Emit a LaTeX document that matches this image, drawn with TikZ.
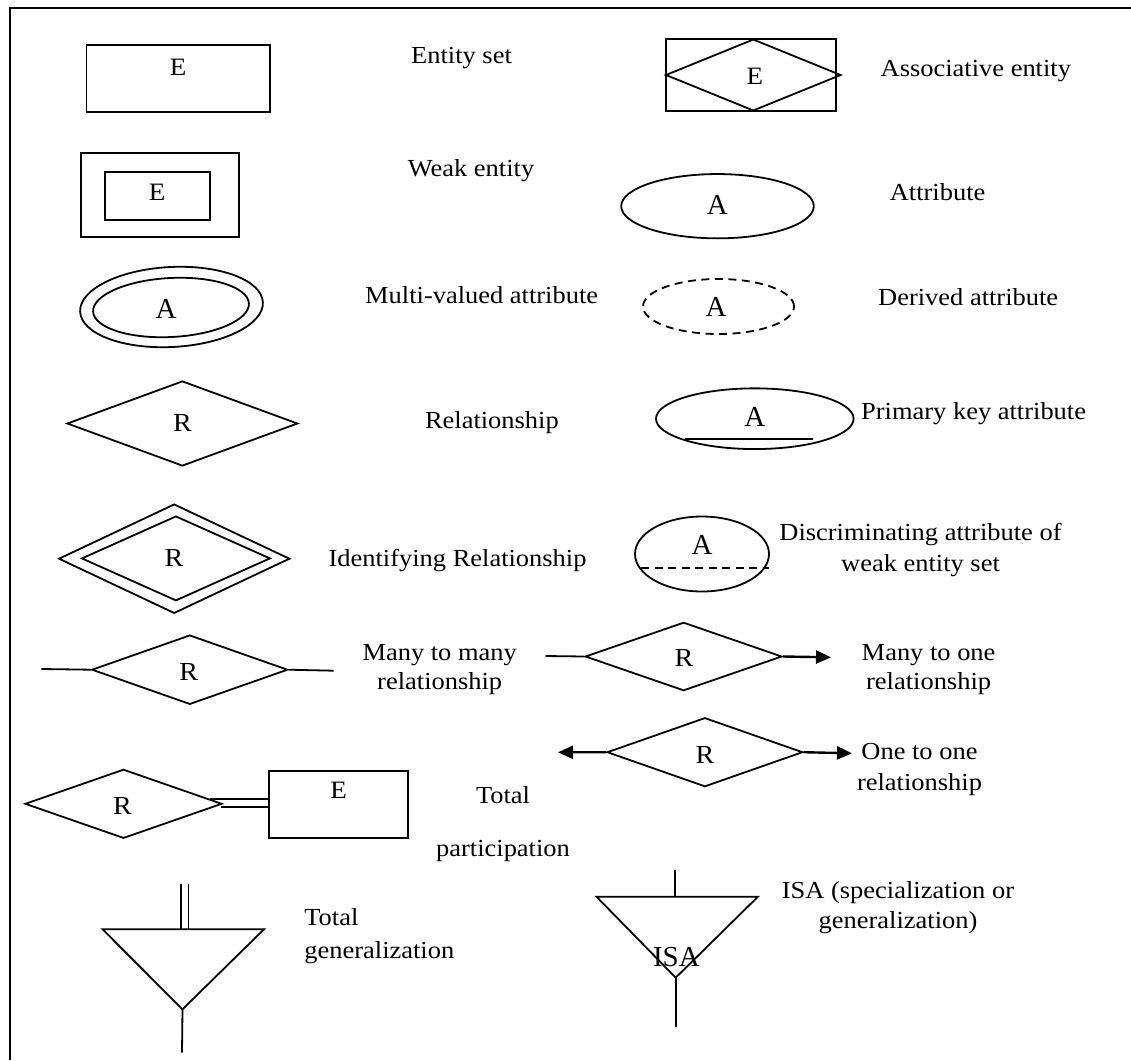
\documentclass[tikz,border=0pt]{standalone}
\usepackage{fontspec}
\setmainfont{Liberation Serif}[FakeStretch=1.08]
\newfontfamily\plainserif{Liberation Serif}
\usetikzlibrary{shapes.geometric,arrows.meta,calc}

\tikzset{
  ln/.style={line width=1.8pt},
  txt/.style={font=\fontsize{24.5}{29}\selectfont, inner sep=0pt},
  lbl/.style={txt, anchor=base west},
  clbl/.style={txt, anchor=base},
  ent/.style={draw, ln, rectangle, inner sep=0pt},
  rel/.style={draw, ln, diamond, inner sep=0pt},
  attr/.style={draw, ln, ellipse, inner sep=0pt},
  letE/.style={font=\fontsize{25}{29}\selectfont, inner sep=0pt},
  letR/.style={font=\fontsize{26}{30}\selectfont, inner sep=0pt},
  letA/.style={font=\plainserif\fontsize{29}{33}\selectfont, inner sep=0pt},
  dash8/.style={dash pattern=on 8pt off 5.5pt},
  tip/.style={line width=2.4pt, -{Triangle[length=15pt,width=13pt]}},
}

\begin{document}
\begin{tikzpicture}[x=1pt,y=-1pt]
\useasboundingbox (0,0) rectangle (1131,1060);

% open frame: top and left rules
\draw[line width=2.2pt] (10,1060) -- (10,8) -- (1131,8);

% ---- entity set
\node[ent, minimum width=183.5pt, minimum height=67pt] (ent) at (178.3,78.5) {};
\node[letE] (entE) at (178,67.5) {E};
\node[lbl] (tEnt) at (411,63) {Entity set};

% ---- weak entity
\node[ent, minimum width=158pt, minimum height=84pt] (weakO) at (159.8,194.7) {};
\node[ent, minimum width=105pt, minimum height=47.7pt] (weakI) at (157.1,195.9) {};
\node[letE] (weakE) at (157,192.5) {E};
\node[lbl] (tWeak) at (407.6,176.7) {Weak entity};

% ---- associative entity
\node[ent, minimum width=170pt, minimum height=71.7pt] (assR) at (750.7,74.9) {};
\node[rel, minimum width=175.4pt, minimum height=71.7pt] (assD) at (753.3,75) {};
\node[letE] (assE) at (754.8,76) {E};
\node[lbl] (tAss) at (880.5,76) {Associative entity};

% ---- attribute
\node[attr, minimum width=192.6pt, minimum height=64.3pt] (att) at (717.5,206.2) {};
\node[letA] (attA) at (717.3,205) {A};
\node[lbl] (tAtt) at (889.6,200) {Attribute};

% ---- multi-valued attribute
\node[attr, rotate=3, minimum width=183pt, minimum height=80pt] (mvO) at (171.5,307) {};
\node[attr, rotate=3, minimum width=156pt, minimum height=59pt] (mvI) at (171,307.5) {};
\node[letA] (mvA) at (166,309) {A};
\node[lbl] (tMv) at (365,303.3) {Multi-valued attribute};

% ---- derived attribute
\node[attr, dash8, minimum width=151pt, minimum height=55pt] (der) at (718.5,306.5) {};
\node[letA] (derA) at (716,307) {A};
\node[lbl] (tDer) at (878,305) {Derived attribute};

% ---- relationship
\node[rel, minimum width=230.7pt, minimum height=85pt] (rel) at (182.4,423.5) {};
\node[letR] (relR) at (182.5,423.3) {R};
\node[lbl] (tRel) at (424.8,428.3) {Relationship};

% ---- primary key attribute
\node[attr, minimum width=197.6pt, minimum height=60.7pt] (pk) at (754.8,418.7) {};
\node[letA] (pkA) at (754.8,416.7) {A};
\draw[ln] ($(pk.center)+(-69.8,20.6)$) coordinate (pkL) -- ($(pk.center)+(58.5,20.6)$) coordinate (pkR);
\node[lbl] (tPk) at (861,419.3) {Primary key attribute};

% ---- identifying relationship
\node[rel, minimum width=231.1pt, minimum height=109.3pt] (idO) at (174.2,558.7) {};
\node[rel, minimum width=188.7pt, minimum height=84.7pt] (idI) at (175.9,558.4) {};
\node[letR] (idR) at (174,558) {R};
\node[lbl] (tId) at (328.4,566.7) {Identifying Relationship};

% ---- discriminating attribute
\node[attr, minimum width=134pt, minimum height=75pt] (dis) at (702,554) {};
\node[letA] (disA) at (702,545) {A};
\draw[ln, dash8] ($(dis.center)+(-61,14.3)$) coordinate (disL) -- ($(dis.center)+(67.2,14.3)$) coordinate (disR);
\node[clbl] (tDis1) at (920.5,540) {Discriminating attribute of};
\node[clbl] (tDis2) at (920.5,571.7) {weak entity set};

% ---- many to many
\node[rel, minimum width=196pt, minimum height=69.3pt] (mm) at (189.8,669.7) {};
\node[letR] (mmR) at (188.7,671.7) {R};
\coordinate (mmA) at (41.3,669);
\coordinate (mmB) at (333.7,670.7);
\draw[ln] (mmA) -- (mm.west);
\draw[ln] (mm.east) -- (mmB);
\node[clbl] (tMm1) at (439.7,660) {Many to many};
\node[clbl] (tMm2) at (439.7,689.3) {relationship};

% ---- many to one
\node[rel, minimum width=196.8pt, minimum height=68.4pt] (mo) at (683.6,656.5) {};
\node[letR] (moR) at (684,658.3) {R};
\coordinate (moA) at (545.5,656);
\coordinate (moB) at (831,657.3);
\draw[ln] (moA) -- (mo.west);
\draw[tip] (mo.east) -- (moB);
\node[clbl] (tMo1) at (928.6,660) {Many to one};
\node[clbl] (tMo2) at (928.6,689.3) {relationship};

% ---- one to one
\node[rel, minimum width=195.7pt, minimum height=69pt] (oo) at (704.9,752.2) {};
\node[letR] (ooR) at (705,755) {R};
\coordinate (ooA) at (558,752.3);
\coordinate (ooB) at (852,753.3);
\draw[tip] (oo.west) -- (ooA);
\draw[tip] (oo.east) -- (ooB);
\node[clbl] (tOo1) at (919.5,759.3) {One to one};
\node[clbl] (tOo2) at (919.5,790.7) {relationship};

% ---- total participation
\node[rel, minimum width=197pt, minimum height=69pt] (tp) at (123.5,803.8) {};
\node[letR] (tpR) at (122.5,806) {R};
\node[ent, minimum width=138.6pt, minimum height=67.3pt] (tpE) at (338.3,804.7) {};
\node[letE] (tpEE) at (338.7,790) {E};
\draw[ln] ($(tp.east)+(-13,-4.8)$) -- ($(tpE.west)+(0,-5.7)$);
\draw[ln] ($(tp.east)+(-2,2.9)$) -- ($(tpE.west)+(0,2)$);
\node[clbl] (tTp1) at (503,803.3) {Total};
\node[clbl] (tTp2) at (503,856.7) {participation};

% ---- total generalization
\coordinate (tgL) at (102.6,929.3);
\coordinate (tgR) at (264,929.3);
\coordinate (tgV) at (182.5,1009.3);
\draw[ln, line join=miter] (tgL) -- (tgR) -- (tgV) -- cycle;
\draw[ln] (181,884) -- (181,929.3);
\draw[ln] (188.5,884) -- (188.5,929.3);
\coordinate (tgEnd) at (182,1052.7);
\draw[ln] (tgV) -- (tgEnd);
\node[lbl] (tTg1) at (304.2,925) {Total};
\node[lbl] (tTg2) at (304.2,958.3) {generalization};

% ---- ISA
\coordinate (isL) at (596.5,896.7);
\coordinate (isR) at (757.9,896.7);
\coordinate (isV) at (675.7,977.7);
\draw[ln, line join=miter] (isL) -- (isR) -- (isV) -- cycle;
\coordinate (isTop) at (675,870);
\coordinate (isTopB) at (675,896.7);
\coordinate (isEnd) at (675.7,1027.3);
\draw[ln] (isTop) -- (isTopB);
\draw[ln] (isV) -- (isEnd);
\node[letA] (isa) at (676.4,956.7) {ISA};
\node[clbl] (tIsa1) at (898,898.3) {ISA (specialization or};
\node[clbl] (tIsa2) at (898,928.3) {generalization)};
\end{tikzpicture}
\end{document}
